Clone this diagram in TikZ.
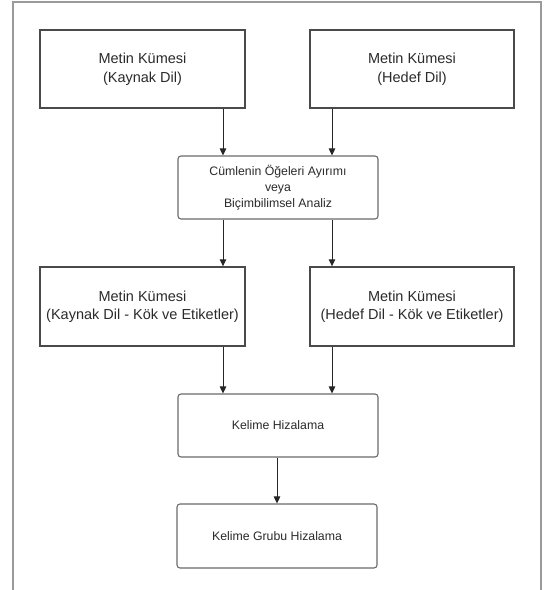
\documentclass[tikz,border=0pt]{standalone}
\usepackage{fontspec}
\setmainfont{Liberation Sans}
\usetikzlibrary{arrows.meta}
\definecolor{framegray}{HTML}{9A9A9A}
\definecolor{boxgray}{HTML}{4A4A4A}
\definecolor{rboxgray}{HTML}{6A6A6A}
\definecolor{txt}{HTML}{2A2A2A}
\tikzset{
  bigbox/.style={draw=boxgray, line width=1.4pt, rectangle, align=center, text=txt,
    font=\fontsize{14.5}{18.5}\selectfont, inner sep=0pt},
  smallbox/.style={draw=rboxgray, line width=1.1pt, rectangle, rounded corners=3pt, align=center, text=txt,
    font=\fontsize{12.3}{16}\selectfont, inner sep=0pt, minimum width=200pt, minimum height=63pt},
  arr/.style={draw=black!85, line width=0.9pt, -{Triangle[length=7pt,width=6.5pt]}},
}
\begin{document}
\begin{tikzpicture}[x=1pt,y=-1pt]
\useasboundingbox (0,0) rectangle (545,590);
\draw[framegray, line width=1.8pt] (13,590) -- (13,2) -- (541,2) -- (541,590);

\node[bigbox, minimum width=205pt, minimum height=78pt] (b1) at (142.5,69) {Metin Kümesi\\(Kaynak Dil)};
\node[bigbox, minimum width=204pt, minimum height=78pt] (b2) at (412,69) {Metin Kümesi\\(Hedef Dil)};
\node[smallbox] (mid) at (278,187.5) {Cümlenin Öğeleri Ayırımı\\veya\\Biçimbilimsel Analiz};
\node[bigbox, minimum width=205pt, minimum height=79pt] (b3) at (142.5,306.5) {Metin Kümesi\\(Kaynak Dil - Kök ve Etiketler)};
\node[bigbox, minimum width=204pt, minimum height=79pt] (b4) at (412,306.5) {Metin Kümesi\\(Hedef Dil - Kök ve Etiketler)};
\node[smallbox] (kh) at (278,425.5) {Kelime Hizalama};
\node[smallbox, minimum height=64pt] (kgh) at (277,536) {Kelime Grubu Hizalama};

\coordinate (xa) at (223,0);
\coordinate (xb) at (332,0);

\draw[arr] (b1.south -| xa) -- (mid.north -| xa);
\draw[arr] (b2.south -| xb) -- (mid.north -| xb);
\draw[arr] (mid.south -| xa) -- (b3.north -| xa);
\draw[arr] (mid.south -| xb) -- (b4.north -| xb);
\draw[arr] (b3.south -| xa) -- (kh.north -| xa);
\draw[arr] (b4.south -| xb) -- (kh.north -| xb);
\draw[arr] (kh.south -| kgh.north) -- (kgh.north);
\end{tikzpicture}
\end{document}
